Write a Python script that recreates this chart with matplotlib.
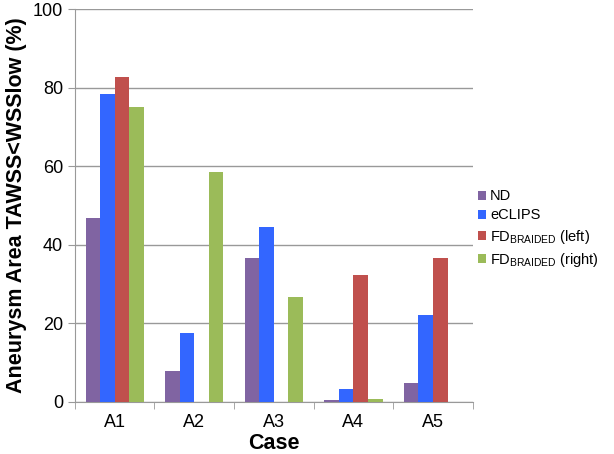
import matplotlib.pyplot as plt
import numpy as np

plt.rcParams['font.family'] = ['Liberation Sans', 'DejaVu Sans']

cases = ["A1", "A2", "A3", "A4", "A5"]
series = ["ND", "eCLIPS", r"FD$_{\mathregular{BRAIDED}}$ (left)", r"FD$_{\mathregular{BRAIDED}}$ (right)"]
nd = [46.8, 7.9, 36.6, 0.4, 4.8]
eclips = [78.4, 17.6, 44.5, 3.3, 22.1]
fd_left = [82.7, 0.0, 0.0, 32.3, 36.6]
fd_right = [75.1, 58.5, 26.7, 0.8, 0.0]
colors = ["#8064A2", "#3366FF", "#C0504D", "#9BBB59"]

fig = plt.figure(figsize=(6.14, 4.54), dpi=100)
ax = fig.add_axes([0.122, 0.115, 0.648, 0.865])

x = np.arange(len(cases))
bar_width = 0.183
for i, (vals, name) in enumerate(zip([nd, eclips, fd_left, fd_right], series)):
    ax.bar(x + (i - 1.5) * bar_width, vals, width=bar_width, color=colors[i], label=name, zorder=3)

ax.set_xlim(-0.5, len(cases) - 0.5)
ax.set_ylim(0, 100)
ax.set_yticks(np.arange(0, 101, 20))
ax.set_xticks(x)
ax.set_xticklabels(cases)
ax.set_xticks(np.arange(-0.5, len(cases)), minor=True)
ax.tick_params(axis="x", which="major", length=0, labelsize=13, pad=9)
ax.tick_params(axis="x", which="minor", length=5, color="#999999")
ax.tick_params(axis="y", length=5, color="#999999", labelsize=13)
ax.yaxis.grid(True, color="#999999", linewidth=1, zorder=0)

for side in ["top", "right"]:
    ax.spines[side].set_visible(False)
ax.spines["left"].set_color("#999999")
ax.spines["bottom"].set_color("#999999")

ax.set_xlabel("Case", fontsize=15.5, fontweight="bold", labelpad=1)
ax.set_ylabel("Aneurysm Area TAWSS<WSSlow (%)", fontsize=15.5, fontweight="bold", labelpad=4)

ax.legend(loc="center left", bbox_to_anchor=(0.99, 0.44), frameon=False, fontsize=10.5,
          handlelength=0.6, handleheight=0.6, handletextpad=0.25, labelspacing=0.35,
          borderaxespad=0.2)

fig.savefig("out.png")
